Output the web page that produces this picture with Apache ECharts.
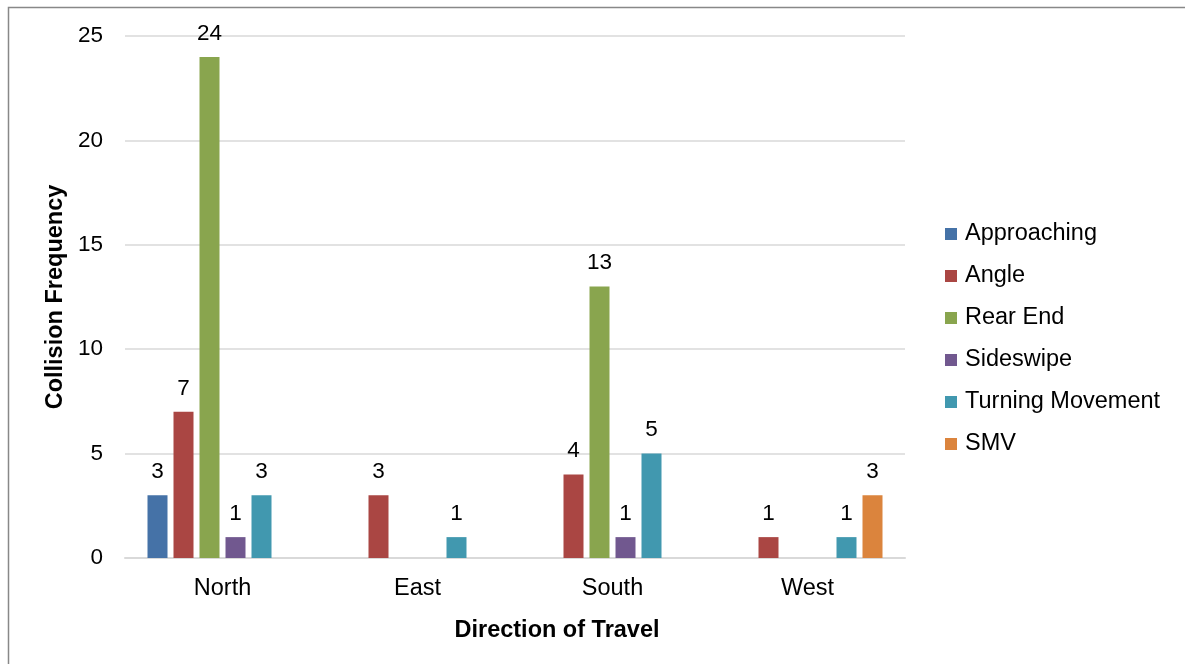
<!DOCTYPE html>
<html><head><meta charset="utf-8">
<script src="https://cdn.jsdelivr.net/npm/echarts@6/dist/echarts.min.js"></script>
<style>html,body{margin:0;padding:0;background:#fff}#c{width:1185px;height:664px}</style>
</head><body><div id="c"></div>
<script>
const categories = ['North','East','South','West'];
const seriesNames = ['Approaching','Angle','Rear End','Sideswipe','Turning Movement','SMV'];
const approaching = [3, null, null, null];
const angle = [7, 3, 4, 1];
const rearEnd = [24, null, 13, null];
const sideswipe = [1, null, 1, null];
const turningMovement = [3, 1, 5, 1];
const smv = [null, null, null, 3];
const colors = ['#4572A7','#AA4643','#89A54E','#71588F','#4198AF','#DB843D'];
const yTicks = {min:0, max:25, interval:5};

const values = [approaching, angle, rearEnd, sideswipe, turningMovement, smv];
const font = 'Liberation Sans, Arial, sans-serif';
const chart = echarts.init(document.getElementById('c'));
chart.setOption({
  animation:false,
  color: colors,
  graphic:[{type:'rect', shape:{x:8.5,y:7.5,width:1300,height:800}, style:{fill:'none',stroke:'#888',lineWidth:1.5}, silent:true}],
  grid:{left:125, right:280, top:36, bottom:106, containLabel:false},
  legend:{
    orient:'vertical', left:940, top:217, itemWidth:12, itemHeight:12, itemGap:18,
    icon:'rect',
    textStyle:{fontFamily:font, fontSize:23.5, color:'#000', padding:[0,0,0,3]},
    data: seriesNames
  },
  xAxis:{
    type:'category', data:categories,
    axisLine:{lineStyle:{color:'#d9d9d9', width:2}},
    axisTick:{show:false},
    axisLabel:{fontFamily:font, fontSize:23.5, color:'#000', margin:19},
    name:'Direction of Travel', nameLocation:'middle', nameGap:61,
    nameTextStyle:{fontFamily:font, fontSize:23.5, fontWeight:'bold', color:'#000', padding:[0,0,0,84]}
  },
  yAxis:{
    type:'value', min:yTicks.min, max:yTicks.max, interval:yTicks.interval,
    axisLine:{show:false}, axisTick:{show:false},
    splitLine:{lineStyle:{color:'#d9d9d9', width:1.5}},
    axisLabel:{fontFamily:font, fontSize:22.5, color:'#000', margin:22, padding:[3,0,0,0]},
    name:'Collision Frequency', nameLocation:'middle', nameGap:54, nameRotate:90,
    nameTextStyle:{fontFamily:font, fontSize:23.5, fontWeight:'bold', color:'#000'}
  },
  series: seriesNames.map((n,i)=>({
    name:n, type:'bar', data:values[i], barWidth:20, barGap:'30%',
    label:{show:true, position:'top', distance:12, fontFamily:font, fontSize:22.5, color:'#000'}
  }))
});
</script></body></html>
